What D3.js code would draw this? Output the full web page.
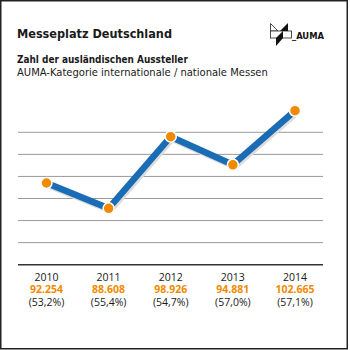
<!DOCTYPE html>
<html>
<head>
<meta charset="utf-8">
<script src="https://cdn.jsdelivr.net/npm/d3@7"></script>
<style>
  html, body { margin: 0; padding: 0; background: #fff; }
  svg { display: block; font-family: 'Open Sans', 'DejaVu Sans', sans-serif; }
  .head { font-family: 'DejaVu Sans Condensed', 'Open Sans', sans-serif; }
</style>
</head>
<body>
<div id="chart"></div>
<script>
const years = ['2010', '2011', '2012', '2013', '2014']
const exhibitors = [92254, 88608, 98926, 94881, 102665]
const valueLabels = ['92.254', '88.608', '98.926', '94.881', '102.665']
const shareLabels = ['(53,2%)', '(55,4%)', '(54,7%)', '(57,0%)', '(57,1%)']
const gridLevels = [1, 2, 3, 4, 5, 6]

const width = 350
const height = 350
const orange = '#f18a00'
const blue = '#1a6db5'

const svg = d3.select('#chart')
  .append('svg')
  .attr('width', width)
  .attr('height', height)

// frame
svg.append('rect')
  .attr('x', 0.75).attr('y', 0.75)
  .attr('width', 346.5).attr('height', 348)
  .attr('fill', '#fff')
  .attr('stroke', '#222')
  .attr('stroke-width', 1.5)

// shrink a header line until it spans the same width as in the original
function fitText (sel, target) {
  const size = +sel.attr('font-size')
  const w = sel.node().getComputedTextLength()
  sel.attr('font-size', (size * target / w).toFixed(2))
}

const title = svg.append('text')
  .attr('class', 'head')
  .attr('x', 17).attr('y', 37.5)
  .attr('font-size', 15).attr('font-weight', 700)
  .attr('fill', '#1a1a1a')
  .text('Messeplatz Deutschland')
fitText(title, 155)

const sub = svg.append('text')
  .attr('class', 'head')
  .attr('x', 17).attr('y', 63)
  .attr('font-size', 11.5).attr('font-weight', 700)
  .attr('fill', '#1a1a1a')
  .text('Zahl der ausländischen Aussteller')
fitText(sub, 171)

const sub2 = svg.append('text')
  .attr('class', 'head')
  .attr('x', 17).attr('y', 75.5)
  .attr('font-size', 11.5)
  .attr('fill', '#1a1a1a')
  .text('AUMA-Kategorie internationale / nationale Messen')
fitText(sub2, 251)

// logo
const logo = svg.append('g').attr('transform', 'translate(270, 23)')
logo.append('path')
  .attr('d', 'M0.5,0.5 L8,8 L0.5,8 Z')
  .attr('fill', '#fff').attr('stroke', '#222').attr('stroke-width', 0.8)
logo.append('rect')
  .attr('x', 0.5).attr('y', 8).attr('width', 21).attr('height', 7)
  .attr('fill', '#fff').attr('stroke', '#222').attr('stroke-width', 0.8)
logo.append('path')
  .attr('d', 'M10,8 L18,0 L18,8 Z')
  .attr('fill', '#111')
logo.append('path')
  .attr('d', 'M6,15 L13,15 L13,8 Z')
  .attr('fill', '#111')
logo.append('path')
  .attr('d', 'M6,15 L13,15 L6,23 Z')
  .attr('fill', '#111')
const brand = svg.append('text')
  .attr('class', 'head')
  .attr('x', 292).attr('y', 38.5)
  .attr('font-size', 10).attr('font-weight', 700)
  .attr('fill', '#111')
  .text('_AUMA')
fitText(brand, 32)

// scales
const x = d3.scalePoint()
  .domain(years)
  .range([46.5, 295])

const y = d3.scaleLinear()
  .domain([80000, 105000])
  .range([268.1, 94.5])

const grid = d3.scaleLinear()
  .domain([0, 6])
  .range([264.7, 132.3])

svg.append('g')
  .selectAll('line')
  .data(gridLevels)
  .join('line')
  .attr('x1', 18).attr('x2', 323)
  .attr('y1', d => grid(d)).attr('y2', d => grid(d))
  .attr('stroke', '#9a9a9a')
  .attr('stroke-width', 1)

svg.append('line')
  .attr('x1', 18).attr('x2', 323)
  .attr('y1', grid(0)).attr('y2', grid(0))
  .attr('stroke', '#333')
  .attr('stroke-width', 1.5)

const data = years.map((yr, i) => ({ year: yr, value: exhibitors[i] }))

const line = d3.line()
  .x(d => x(d.year))
  .y(d => y(d.value))

svg.append('path')
  .datum(data)
  .attr('d', line)
  .attr('transform', 'translate(1.5, 2)')
  .attr('fill', 'none')
  .attr('stroke', '#dcdcdc')
  .attr('stroke-width', 6.5)

svg.append('path')
  .datum(data)
  .attr('d', line)
  .attr('fill', 'none')
  .attr('stroke', blue)
  .attr('stroke-width', 6.5)

svg.append('g')
  .selectAll('circle')
  .data(data)
  .join('circle')
  .attr('cx', d => x(d.year))
  .attr('cy', d => y(d.value))
  .attr('r', 5.5)
  .attr('fill', orange)
  .attr('stroke', '#fff')
  .attr('stroke-width', 1.5)

// bottom labels
const labels = svg.append('g')
  .attr('text-anchor', 'middle')
  .attr('font-size', 10.5)

labels.selectAll('text.year')
  .data(years)
  .join('text')
  .attr('class', 'year')
  .attr('x', d => x(d)).attr('y', 280.5)
  .attr('fill', '#1a1a1a')
  .text(d => d)

labels.selectAll('text.val')
  .data(valueLabels)
  .join('text')
  .attr('class', 'val')
  .attr('x', (d, i) => x(years[i])).attr('y', 293)
  .attr('fill', orange)
  .attr('font-weight', 700)
  .text(d => d)

labels.selectAll('text.share')
  .data(shareLabels)
  .join('text')
  .attr('class', 'share')
  .attr('x', (d, i) => x(years[i])).attr('y', 305.5)
  .attr('fill', '#1a1a1a')
  .text(d => d)
</script>
</body>
</html>
